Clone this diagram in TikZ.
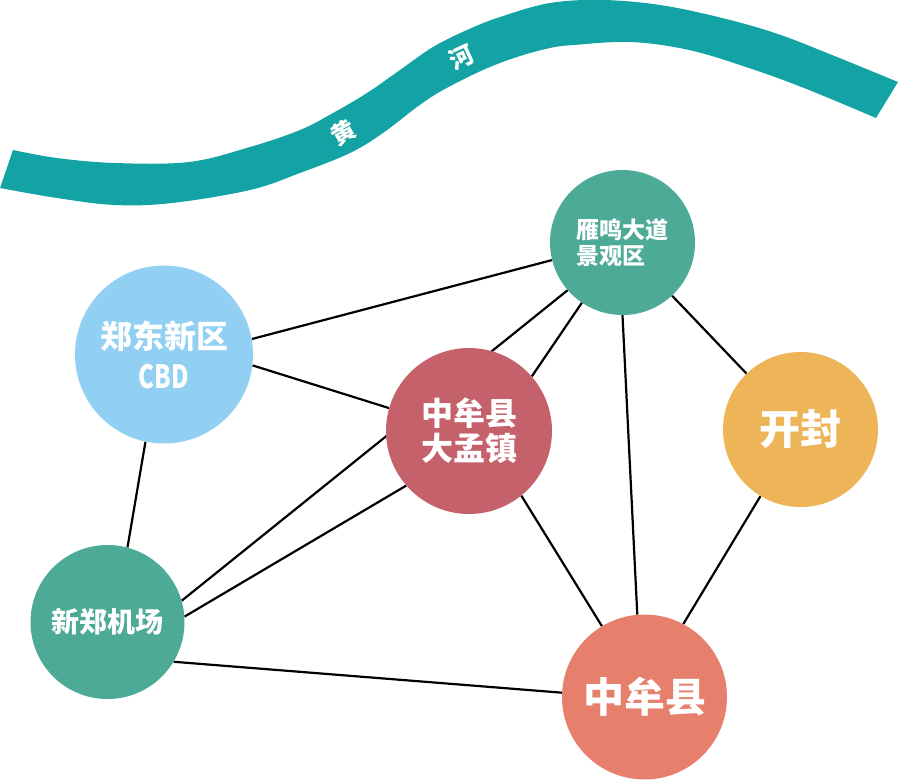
\documentclass[tikz,border=0pt]{standalone}
\usepackage{fontspec}
\usepackage{graphicx}
\newfontfamily\cjk{Noto Sans CJK SC}
\usetikzlibrary{backgrounds}
\definecolor{riverteal}{HTML}{14A3A4}
\definecolor{jadegreen}{HTML}{4CAA97}
\definecolor{skyblue}{HTML}{92D0F3}
\definecolor{rosered}{HTML}{C5616B}
\definecolor{goldorange}{HTML}{EEB458}
\definecolor{salmonred}{HTML}{E67F6C}

\begin{document}
\begin{tikzpicture}[x=1pt,y=-1pt,
    town/.style={circle,inner sep=0pt,text=white,align=center},
    link/.style={line width=2.2pt,black},
    rivertext/.style={text=white,inner sep=0pt,font=\cjk\bfseries\fontsize{24}{24}\selectfont}]
    \useasboundingbox (0,0) rectangle (900,780);
    % the river
    \fill[riverteal] plot[smooth,tension=0.6] coordinates {(13,150) (57,158) (115,163) (189,162) (250,147) (300,130) (333,113) (367,93) (400,70) (433,47) (467,30) (500,17) (550,3) (603,0) (660,5) (718,17) (775,33) (832,55) (898,82)}
        -- plot[smooth,tension=0.6] coordinates {(876,118) (804,88) (746,67) (689,50) (631,42) (574,45) (550,48) (517,57) (483,70) (443,90) (417,107) (383,133) (350,153) (300,173) (250,190) (172,203) (115,205) (57,198) (0,188)}
        -- cycle;
    \node[rivertext,rotate=30] (huang) at (343,133) {黄};
    \node[rivertext,rotate=25] (he) at (462,57) {河};
    % places
    \node[town,fill=jadegreen,minimum size=145pt,align=left,font=\cjk\bfseries\fontsize{23}{26}\selectfont] (yanming) at (622.5,242.5) {雁鸣大道\\景观区};
    \node[town,fill=skyblue,minimum size=178pt,font=\cjk\bfseries\fontsize{32}{40}\selectfont] (zhengdong) at (164,354.5) {郑东新区\\\scalebox{0.75}[1]{CBD}};
    \node[town,fill=rosered,minimum size=166pt,font=\cjk\bfseries\fontsize{32}{35}\selectfont] (dameng) at (469,431) {中牟县\\大孟镇};
    \node[town,fill=goldorange,minimum size=155pt,font=\cjk\bfseries\fontsize{41}{41}\selectfont] (kaifeng) at (800.5,429.5) {开封};
    \node[town,fill=jadegreen,minimum size=154pt,font=\cjk\bfseries\fontsize{28}{28}\selectfont] (jichang) at (107.5,622) {新郑机场};
    \node[town,fill=salmonred,minimum size=165pt,font=\cjk\bfseries\fontsize{41}{41}\selectfont] (zhongmou) at (644.5,697) {中牟县};
    % roads
    \begin{scope}[on background layer]
        \draw[link] (zhengdong.10.5) -- (yanming.194);
        \draw[link] (zhengdong.-7.4) -- (dameng.164);
        \draw[link] (zhengdong.258) -- (jichang.75);
        \draw[link] (jichang.16) -- (yanming.221);
        \draw[link] (jichang.4.5) -- (dameng.221);
        \draw[link] (jichang.-31) -- (zhongmou.177);
        \draw[link] (yanming.236.6) -- (dameng.41);
        \draw[link] (yanming.270) -- (zhongmou.95);
        \draw[link] (yanming.-47) -- (kaifeng.134.5);
        \draw[link] (dameng.309) -- (zhongmou.121.6);
        \draw[link] (kaifeng.239) -- (zhongmou.62);
    \end{scope}
\end{tikzpicture}
\end{document}
